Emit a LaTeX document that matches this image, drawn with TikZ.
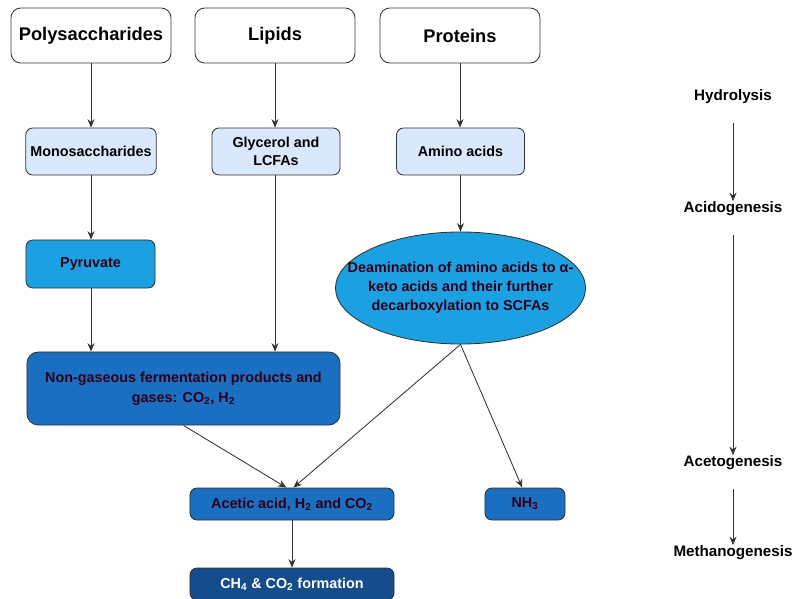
\documentclass[tikz,border=0pt]{standalone}
\usepackage{fontspec}
\setmainfont{Liberation Sans}
\usetikzlibrary{arrows.meta,shapes.geometric}
\definecolor{lightbox}{HTML}{DAE8FC}
\definecolor{midblue}{HTML}{1BA1E2}
\definecolor{darkblue}{HTML}{1A6FC0}
\definecolor{deepblue}{HTML}{154C8C}
\definecolor{plum}{HTML}{33001A}
\tikzset{
  base/.style={rounded corners=5pt, draw=black!80, line width=0.6pt, align=center, font=\fontsize{10.2}{12.5}\selectfont\bfseries},
  source/.style={base, fill=white, minimum width=4cm, minimum height=1.375cm, rounded corners=7pt, font=\fontsize{13}{15}\selectfont\bfseries},
  monomer/.style={base, fill=lightbox, minimum width=3.2cm, minimum height=1.175cm},
  inter/.style={base, fill=midblue, text=plum},
  product/.style={base, fill=darkblue, text=plum},
  final/.style={base, fill=deepblue, text=white},
  stage/.style={font=\fontsize{10.8}{12.5}\selectfont\bfseries},
  flow/.style={draw=black!80, line width=0.6pt, -{Stealth[length=6pt,width=5pt]}}
}
\begin{document}
\begin{tikzpicture}[x=0.025cm, y=-0.025cm]
  \useasboundingbox (0,0) rectangle (795,598);
  % substrates
  \node[source] (poly) at (91,35.5) {Polysaccharides};
  \node[source] (lip) at (275,35.5) {Lipids};
  \node[source] (prot) at (460,35.5) {Proteins};
  % hydrolysis products
  \node[monomer] (mono) at (91,151.5) {Monosaccharides};
  \node[monomer] (glyc) at (276,151.5) {Glycerol and\\LCFAs};
  \node[monomer] (amino) at (460.5,151.5) {Amino acids};
  % acidogenesis
  \node[inter, minimum width=3.225cm, minimum height=1.2cm] (pyr) at (90.5,264) {Pyruvate};
  \node[inter, ellipse, rounded corners=0pt, minimum width=6.25cm, minimum height=2.8cm] (deam) at (460.5,288) {};
  \node[align=center, text=plum, font=\fontsize{10.2}{13.5}\selectfont\bfseries] (deamtext) at (deam.center)
    {Deamination of amino acids to α-\\keto acids and their further\\decarboxylation to SCFAs};
  \node[product, rounded corners=8pt, minimum width=7.825cm, minimum height=1.825cm,
    font=\fontsize{10.2}{14}\selectfont\bfseries] (nongas) at (183.5,388.5)
    {Non-gaseous fermentation products and\\gases: CO\textsubscript{2}, H\textsubscript{2}};
  % acetogenesis
  \node[product, minimum width=5.1cm, minimum height=0.8cm] (acet) at (292,504)
    {Acetic acid, H\textsubscript{2} and CO\textsubscript{2}};
  \node[product, minimum width=2cm, minimum height=0.8cm] (nh3) at (525,504) {NH\textsubscript{3}};
  % methanogenesis
  \node[final, minimum width=5.1cm, minimum height=0.8cm] (meth) at (292,584)
    {CH\textsubscript{4} \& CO\textsubscript{2} formation};
  % stages
  \node[stage] (hyd) at (733,97) {Hydrolysis};
  \node[stage] (acido) at (733,209) {Acidogenesis};
  \node[stage] (aceto) at (733,463) {Acetogenesis};
  \node[stage] (metha) at (733,553) {Methanogenesis};
  \begin{scope}[flow]
    \draw (poly) to (mono);
    \draw (lip) to (glyc.north -| lip);
    \draw (prot) to (amino.north -| prot);
    \draw (mono) to (pyr.north -| mono);
    \draw (glyc.south -| lip) to (nongas.north -| lip);
    \draw (pyr.south -| mono) to (nongas.north -| mono);
    \draw (amino.south -| deam) to (deam);
    \draw (nongas.south) to ([xshift=-4pt]acet.north);
    \draw (deam.south) to ([xshift=1pt]acet.north);
    \draw (deam.south) to ([xshift=-2pt]nh3.north);
    \draw (acet) to (meth);
    \draw ([yshift=-10pt]hyd.south) to ([yshift=-3pt]acido.north);
    \draw ([yshift=-10pt]acido.south) to ([yshift=-3pt]aceto.north);
    \draw ([yshift=-10pt]aceto.south) to ([yshift=-3pt]metha.north);
  \end{scope}
\end{tikzpicture}
\end{document}
